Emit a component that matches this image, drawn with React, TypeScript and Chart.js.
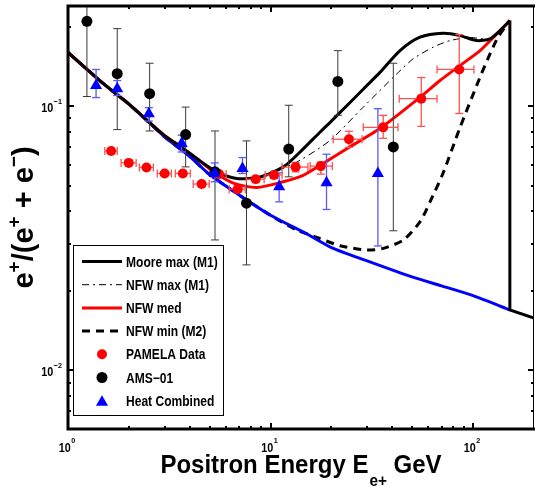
import React, { useEffect, useRef } from "react";
import { Chart, registerables } from "chart.js";

Chart.register(...registerables);

// ---------------- axes ----------------
const xRange = [1, 200];
const yRange = [0.006, 0.24];
const xMajorTicks = [1, 10, 100];
const xTickExponents = ["0", "1", "2"];
const yMajorTicks = [0.01, 0.1];
const yTickExponents = ["\u22122", "\u22121"];
const xTitleParts = ["Positron Energy E", "e+", " GeV"];
const legendLabels = [
  "Moore max (M1)",
  "NFW max (M1)",
  "NFW med",
  "NFW min (M2)",
  "PAMELA Data",
  "AMS\u221201",
  "Heat Combined",
];

// ---------------- model curves ----------------
const bgE = [1, 1.5, 2, 3, 4, 5, 7, 10, 15, 20, 30, 50, 70, 100, 152];
const bgV = [0.16, 0.1216, 0.102, 0.0767, 0.0646, 0.0552, 0.0462, 0.0387, 0.033, 0.0292, 0.026, 0.0226, 0.0209, 0.0192, 0.01696];

const mooreE = [1, 1.5, 2, 3, 3.72, 4.5, 5.44, 6.82, 8.89, 11.58, 14.0, 17.6, 19.7, 24.7, 28.6, 34.8, 43.6, 54.7, 71.1, 86.3, 104.3, 121.3, 135.9, 152];
const mooreV = [0.16, 0.1216, 0.102, 0.0775, 0.0692, 0.062, 0.0565, 0.0533, 0.0541, 0.059, 0.0672, 0.08, 0.087, 0.1035, 0.1159, 0.1348, 0.1627, 0.1828, 0.1893, 0.1854, 0.1775, 0.1803, 0.1936, 0.2113];
// sharp cut-off of the Moore curve and its continuation on the background
const mooreTailE = [152, 152, 200];
const mooreTailV = [0.2113, 0.01696, 0.0158];

const nfwMaxE = [1, 1.5, 2, 3, 3.72, 4.5, 5.44, 6.82, 8.89, 11.16, 14.0, 19.7, 28.6, 42.2, 50.6, 63.5, 76.9, 96.6, 121.3, 135.9, 152];
const nfwMaxV = [0.16, 0.1216, 0.102, 0.0775, 0.0692, 0.062, 0.0565, 0.0533, 0.0541, 0.0578, 0.0625, 0.0744, 0.0991, 0.1332, 0.1514, 0.1675, 0.1775, 0.1823, 0.18, 0.1936, 0.2113];

const nfwMedE = [1, 1.5, 2, 3, 3.72, 4.5, 5.23, 6.54, 8.56, 11.54, 14.5, 17.58, 24.7, 34.8, 54.7, 68.7, 86.3, 108.3, 131, 152];
const nfwMedV = [0.16, 0.1216, 0.102, 0.0775, 0.0692, 0.062, 0.0565, 0.0512, 0.0493, 0.0518, 0.0548, 0.0598, 0.0703, 0.0826, 0.1082, 0.1253, 0.1429, 0.1627, 0.1882, 0.2113];

const nfwMinE = [1, 1.5, 2, 3, 4, 5, 7, 10, 13.49, 16.93, 22.07, 29.9, 36.1, 45.3, 54.8, 61.3, 71.1, 86.3, 108.3, 121.3, 132.8, 152];
const nfwMinV = [0.16, 0.1216, 0.102, 0.0767, 0.0646, 0.0552, 0.0462, 0.0387, 0.034, 0.0319, 0.02966, 0.02857, 0.029, 0.0312, 0.0366, 0.0435, 0.0558, 0.0833, 0.129, 0.158, 0.1827, 0.2113];

// ---------------- data ----------------
const pamelaE = [1.633, 1.995, 2.44, 3.0, 3.69, 4.57, 5.57, 6.89, 8.45, 10.4, 13.3, 17.7, 24.4, 36.0, 55.5, 85.5];
const pamelaV = [0.0678, 0.0611, 0.0587, 0.0557, 0.0557, 0.0508, 0.0554, 0.0486, 0.053, 0.055, 0.0589, 0.0594, 0.0751, 0.0833, 0.107, 0.138];
const pamelaVLo = [0.0665, 0.06, 0.0577, 0.0547, 0.0546, 0.0497, 0.0542, 0.0474, 0.0517, 0.0533, 0.0565, 0.0554, 0.07, 0.0757, 0.084, 0.094];
const pamelaVHi = [0.0691, 0.0622, 0.0597, 0.0567, 0.0568, 0.0519, 0.0566, 0.0498, 0.0543, 0.0567, 0.0613, 0.0615, 0.0805, 0.0925, 0.1286, 0.187];
const pamelaELo = [1.52, 1.83, 2.25, 2.76, 3.39, 4.15, 5.1, 6.25, 7.59, 9.41, 11.4, 15.7, 20.4, 28.7, 43.2, 66.4];
const pamelaEHi = [1.75, 2.17, 2.64, 3.24, 4.02, 4.98, 6.04, 7.5, 9.3, 11.4, 15.3, 20.2, 28.3, 42.6, 66.4, 101];

const amsE = [1.24, 1.75, 2.53, 3.81, 5.32, 7.61, 12.3, 21.5, 40.4];
const amsV = [0.21, 0.133, 0.1117, 0.0782, 0.0565, 0.043, 0.0689, 0.1243, 0.0702];
const amsLo = [0.109, 0.0817, 0.0807, 0.059, 0.0312, 0.0251, 0.0541, 0.0925, 0.0338];
const amsHi = [0.31, 0.197, 0.1457, 0.0994, 0.0807, 0.074, 0.101, 0.1626, 0.1457];

const heatE = [1.376, 1.75, 2.506, 3.64, 5.3, 7.27, 11.03, 18.9, 33.9];
const heatV = [0.12, 0.1166, 0.0938, 0.0723, 0.0557, 0.0582, 0.0496, 0.0514, 0.0557];
const heatLo = [0.108, 0.11, 0.088, 0.0672, 0.0518, 0.0557, 0.0435, 0.0407, 0.0296];
const heatHi = [0.138, 0.1253, 0.0989, 0.0778, 0.0611, 0.064, 0.056, 0.0659, 0.098];

const FONT = "'Liberation Sans', Arial, Helvetica, sans-serif";

const pts = (xs: number[], ys: number[]) => xs.map((x, i) => ({ x, y: ys[i] }));

function measure(ctx: CanvasRenderingContext2D, s: string, size: number, sx: number) {
  ctx.save();
  ctx.font = `bold ${size}px ${FONT}`;
  const w = ctx.measureText(s).width * sx;
  ctx.restore();
  return w;
}

function drawText(ctx: CanvasRenderingContext2D, s: string, x: number, y: number, size: number, sx: number) {
  ctx.save();
  ctx.font = `bold ${size}px ${FONT}`;
  ctx.fillStyle = "#000";
  ctx.textAlign = "left";
  ctx.textBaseline = "alphabetic";
  ctx.translate(x, y);
  ctx.scale(sx, 1);
  ctx.fillText(s, 0, 0);
  ctx.restore();
}

function line(ctx: CanvasRenderingContext2D, x1: number, y1: number, x2: number, y2: number) {
  ctx.beginPath();
  ctx.moveTo(x1, y1);
  ctx.lineTo(x2, y2);
  ctx.stroke();
}

function drawErrorBars(chart: any) {
  const ctx: CanvasRenderingContext2D = chart.ctx;
  const xs = chart.scales.x;
  const ys = chart.scales.y;
  const a = chart.chartArea;
  const cap = 4;
  ctx.save();
  ctx.beginPath();
  ctx.rect(a.left, a.top, a.right - a.left, a.bottom - a.top);
  ctx.clip();
  ctx.setLineDash([]);
  const vbar = (x: number, lo: number, hi: number) => {
    const px = xs.getPixelForValue(x);
    const p1 = ys.getPixelForValue(lo);
    const p2 = ys.getPixelForValue(hi);
    line(ctx, px, p1, px, p2);
    line(ctx, px - cap, p1, px + cap, p1);
    line(ctx, px - cap, p2, px + cap, p2);
  };
  const hbar = (y: number, lo: number, hi: number) => {
    const py = ys.getPixelForValue(y);
    const p1 = xs.getPixelForValue(lo);
    const p2 = xs.getPixelForValue(hi);
    line(ctx, p1, py, p2, py);
    line(ctx, p1, py - cap, p1, py + cap);
    line(ctx, p2, py - cap, p2, py + cap);
  };
  ctx.strokeStyle = "#3a3a3a";
  ctx.lineWidth = 1;
  amsE.forEach((e, i) => vbar(e, amsLo[i], amsHi[i]));
  ctx.strokeStyle = "#5a5aff";
  ctx.lineWidth = 1.3;
  heatE.forEach((e, i) => vbar(e, heatLo[i], heatHi[i]));
  ctx.strokeStyle = "#ff5050";
  ctx.lineWidth = 1.3;
  pamelaE.forEach((e, i) => {
    vbar(e, pamelaVLo[i], pamelaVHi[i]);
    hbar(pamelaV[i], pamelaELo[i], pamelaEHi[i]);
  });
  ctx.restore();
}

function drawFrame(chart: any) {
  const ctx: CanvasRenderingContext2D = chart.ctx;
  const xs = chart.scales.x;
  const ys = chart.scales.y;
  const a = chart.chartArea;
  ctx.save();
  ctx.setLineDash([]);
  ctx.strokeStyle = "#000";
  const xMinor: number[] = [];
  const yMinor: number[] = [];
  for (let d = 1; d <= 100; d *= 10) for (let k = 2; k <= 9; k++) if (k * d < xRange[1]) xMinor.push(k * d);
  for (let d = 0.001; d <= 0.1; d *= 10) for (let k = 2; k <= 9; k++) {
    const v = k * d;
    if (v > yRange[0] && v < yRange[1]) yMinor.push(v);
  }
  ctx.lineWidth = 2;
  const tickX = (v: number, len: number) => {
    const px = Math.round(xs.getPixelForValue(v));
    line(ctx, px, a.bottom, px, a.bottom - len);
    line(ctx, px, a.top, px, a.top + len);
  };
  const tickY = (v: number, len: number) => {
    const py = Math.round(ys.getPixelForValue(v));
    line(ctx, a.left, py, a.left + len, py);
    line(ctx, a.right, py, a.right - len, py);
  };
  xMinor.forEach((v) => tickX(v, 3));
  xMajorTicks.forEach((v) => tickX(v, 6));
  yMinor.forEach((v) => tickY(v, 3));
  yMajorTicks.forEach((v) => tickY(v, 6));
  ctx.lineWidth = 3;
  ctx.beginPath();
  ctx.moveTo(a.right + 1, a.top);
  ctx.lineTo(a.left, a.top);
  ctx.lineTo(a.left, a.bottom);
  ctx.lineTo(a.right + 1, a.bottom);
  ctx.stroke();
  ctx.lineWidth = 1;
  line(ctx, a.right - 0.5, a.top, a.right - 0.5, a.bottom);

  // tick labels
  const bs = 12, ss = 8, sx = 0.9;
  xMajorTicks.forEach((v, i) => {
    const px = xs.getPixelForValue(v);
    const bw = measure(ctx, "10", bs, sx);
    const sw = measure(ctx, xTickExponents[i], ss, sx);
    const start = px - (bw + sw + 0.5) / 2 - 1;
    drawText(ctx, "10", start, a.bottom + 23, bs, sx);
    drawText(ctx, xTickExponents[i], start + bw + 0.5, a.bottom + 14, ss, sx);
  });
  yMajorTicks.forEach((v, i) => {
    const py = ys.getPixelForValue(v);
    const bw = measure(ctx, "10", bs, sx);
    const sw = measure(ctx, yTickExponents[i], ss, sx);
    const right = a.left - 6;
    drawText(ctx, yTickExponents[i], right - sw, py - 2, ss, sx);
    drawText(ctx, "10", right - sw - 0.5 - bw, py + 5.5, bs, sx);
  });

  // x title
  {
    const ms = 25, subS = 16, tsx = 0.96;
    const w0 = measure(ctx, xTitleParts[0], ms, tsx);
    const w1 = measure(ctx, xTitleParts[1], subS, tsx);
    const w2 = measure(ctx, xTitleParts[2], ms, tsx);
    const total = w0 + 1 + w1 + w2;
    const cx = (a.left + a.right) / 2;
    let x = cx - total / 2;
    const base = 473;
    drawText(ctx, xTitleParts[0], x, base, ms, tsx);
    x += w0 + 1;
    drawText(ctx, xTitleParts[1], x, base + 13, subS, tsx);
    x += w1;
    drawText(ctx, xTitleParts[2], x, base, ms, tsx);
  }

  // y title: e+/(e+ + e-)
  {
    const ms = 29, supS = 19;
    const parts: [string, boolean][] = [
      ["e", false], ["+", true], ["/(e", false], ["+", true], [" + e", false], ["\u2212", true], [")", false],
    ];
    ctx.save();
    const cy = (a.top + a.bottom) / 2;
    ctx.translate(33, cy);
    ctx.rotate(-Math.PI / 2);
    const widths = parts.map(([s, sup]) => measure(ctx, s, sup ? supS : ms, 1));
    const total = widths.reduce((p, c) => p + c, 0);
    let x = -total / 2;
    parts.forEach(([s, sup], i) => {
      ctx.font = `bold ${sup ? supS : ms}px ${FONT}`;
      ctx.fillStyle = "#000";
      ctx.textBaseline = "alphabetic";
      ctx.textAlign = "left";
      ctx.fillText(s, x, sup ? -13 : 0);
      x += widths[i];
    });
    ctx.restore();
  }

  // legend
  {
    const lx = 73.5, ly = 245.5, lw = 150, lh = 170;
    ctx.fillStyle = "#fff";
    ctx.fillRect(lx, ly, lw, lh);
    ctx.lineWidth = 1;
    ctx.strokeStyle = "#000";
    ctx.strokeRect(lx, ly, lw, lh);
    const rowY = (i: number) => 261.5 + i * 23.2;
    const s1 = 82, s2 = 122, mid = 102;
    const lineStyles = [
      { c: "#000", w: 3, d: [] as number[] },
      { c: "#000", w: 1, d: [7, 4, 2, 4] },
      { c: "#ff0000", w: 3, d: [] as number[] },
      { c: "#000", w: 3, d: [8, 6] },
    ];
    lineStyles.forEach((st, i) => {
      ctx.save();
      ctx.strokeStyle = st.c;
      ctx.lineWidth = st.w;
      ctx.setLineDash(st.d);
      line(ctx, s1, rowY(i), s2, rowY(i));
      ctx.restore();
    });
    ctx.setLineDash([]);
    ctx.fillStyle = "#ff0000";
    ctx.beginPath();
    ctx.arc(mid, rowY(4), 5, 0, Math.PI * 2);
    ctx.fill();
    ctx.fillStyle = "#000";
    ctx.beginPath();
    ctx.arc(mid, rowY(5), 5.5, 0, Math.PI * 2);
    ctx.fill();
    ctx.fillStyle = "#0000ff";
    ctx.beginPath();
    const r = 7, ty = rowY(6) + 1.5;
    ctx.moveTo(mid, ty - r);
    ctx.lineTo(mid + r * 0.866, ty + r * 0.5);
    ctx.lineTo(mid - r * 0.866, ty + r * 0.5);
    ctx.closePath();
    ctx.fill();
    legendLabels.forEach((t, i) => drawText(ctx, t, 126, rowY(i) + 5, 14, 0.86));
  }
  ctx.restore();
}

const ERRBAR_AFTER = 4; // draw error bars right after the last model curve

const customPlugin = {
  id: "matlabStyle",
  beforeDraw(chart: any) {
    const ctx = chart.ctx;
    ctx.save();
    ctx.fillStyle = "#fff";
    ctx.fillRect(0, 0, chart.width, chart.height);
    ctx.restore();
  },
  afterDatasetDraw(chart: any, args: any) {
    if (args.index === ERRBAR_AFTER) drawErrorBars(chart);
  },
  afterDraw(chart: any) {
    drawFrame(chart);
  },
};

export default function App() {
  const ref = useRef<HTMLCanvasElement | null>(null);
  useEffect(() => {
    document.body.style.margin = "0";
    const canvas = ref.current;
    if (!canvas) return;
    const curve = (label: string, xs: number[], ys: number[], color: string, width: number, dash: number[], tension = 0.25) => ({
      label,
      data: pts(xs, ys),
      showLine: true,
      borderColor: color,
      backgroundColor: color,
      borderWidth: width,
      borderDash: dash,
      pointRadius: 0,
      tension,
      fill: false,
    });
    const chart = new Chart(canvas, {
      type: "scatter",
      data: {
        datasets: [
          {
            label: legendLabels[6],
            data: pts(heatE, heatV),
            pointStyle: "triangle",
            pointRadius: 7,
            backgroundColor: "#0000ff",
            borderColor: "#0000ff",
            borderWidth: 0,
          } as any,
          {
            label: legendLabels[5],
            data: pts(amsE, amsV),
            pointStyle: "circle",
            pointRadius: 5.5,
            backgroundColor: "#000",
            borderColor: "#000",
            borderWidth: 0,
          },
          {
            label: legendLabels[4],
            data: pts(pamelaE, pamelaV),
            pointStyle: "circle",
            pointRadius: 5,
            backgroundColor: "#ff0000",
            borderColor: "#ff0000",
            borderWidth: 0,
          },
          curve(legendLabels[0] + " cut-off", mooreTailE, mooreTailV, "#000", 3, [], 0),
          curve(legendLabels[0], mooreE, mooreV, "#000", 3, []),
          curve(legendLabels[1], nfwMaxE, nfwMaxV, "#000", 1, [7, 4, 2, 4]),
          curve(legendLabels[2], nfwMedE, nfwMedV, "#ff0000", 3, []),
          curve("Background", bgE, bgV, "#0000ff", 3, []),
          curve(legendLabels[3], nfwMinE, nfwMinV, "#000", 3, [8, 6]),
        ],
      },
      options: {
        animation: false,
        responsive: false,
        devicePixelRatio: 1,
        events: [],
        layout: { autoPadding: false, padding: { left: 68, top: 6, right: 1, bottom: 58 } },
        scales: {
          x: { type: "logarithmic", min: xRange[0], max: xRange[1], display: false },
          y: { type: "logarithmic", min: yRange[0], max: yRange[1], display: false },
        },
        plugins: {
          legend: { display: false },
          tooltip: { enabled: false },
          title: { display: false },
        },
      } as any,
      plugins: [customPlugin],
    });
    return () => chart.destroy();
  }, []);
  return (
    <div style={{ width: 535, height: 487, background: "#fff" }}>
      <canvas ref={ref} width={535} height={487} style={{ display: "block" }} />
    </div>
  );
}
